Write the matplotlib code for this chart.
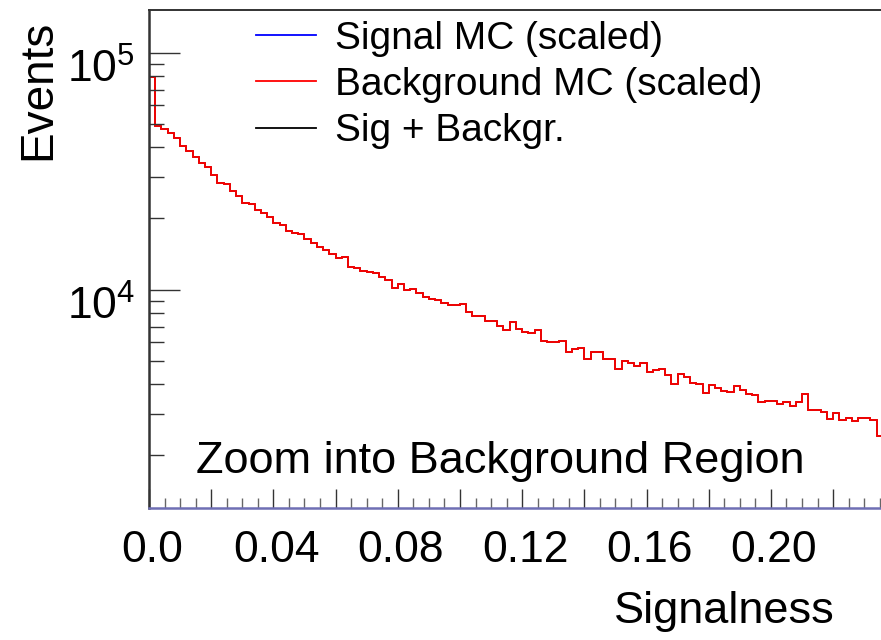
import numpy as np
import matplotlib
matplotlib.use("Agg")
import matplotlib.pyplot as plt
import matplotlib.transforms as mtransforms
from matplotlib.lines import Line2D
from matplotlib.ticker import FixedLocator, FixedFormatter, MultipleLocator, LogLocator, NullFormatter

plt.rcParams['font.family'] = ['Liberation Sans', 'DejaVu Sans']
plt.rcParams['mathtext.fontset'] = 'custom'
plt.rcParams['mathtext.rm'] = 'Liberation Sans'

# ---- data ----
bin_width = 0.002
background = [
    79400, 49350, 47640, 45840, 43920, 40510, 38590, 36290, 34450, 32940,
    30650, 28360, 27930, 26160, 24930, 23360, 23000, 21760, 21070, 20390,
    19170, 18800, 17740, 17450, 17180, 16460, 15830, 15140, 14710, 14150,
    13560, 13740, 12540, 12350, 12060, 11910, 11720, 11380, 11020, 10170,
    10580, 10000, 10070, 9740, 9370, 9160, 9050, 8840, 8670, 8590,
    8700, 8100, 7770, 7720, 7420, 7400, 7050, 6780, 7350, 6860,
    6660, 6570, 6740, 6090, 6030, 6020, 6110, 5440, 5640, 5690,
    5130, 5460, 5490, 5100, 5110, 4630, 5020, 4890, 4760, 4910,
    4490, 4580, 4640, 4370, 4020, 4410, 4270, 4060, 4020, 3660,
    3970, 3860, 3740, 3690, 3910, 3790, 3650, 3610, 3370, 3410,
    3380, 3290, 3360, 3240, 3370, 3630, 3120, 3100, 3050, 2860,
    3030, 2830, 2890, 2800, 2890, 2870, 2810, 2420,
]
legend_labels = ["Signal MC (scaled)", "Background MC (scaled)", "Sig + Backgr."]
x_major_ticks = [0.0, 0.02, 0.04, 0.06, 0.08, 0.10, 0.12, 0.14, 0.16, 0.18, 0.20, 0.22]
x_tick_labels = ["0.0", "", "0.04", "", "0.08", "", "0.12", "", "0.16", "", "0.20", ""]
y_major_ticks = [1e4, 1e5]
y_tick_labels = [r"$10^{4}$", r"$10^{5}$"]
x_range = (0.0, 0.2354)
y_range = (1200, 151700)

W, H = 881, 640
fig = plt.figure(figsize=(W / 100, H / 100), dpi=100)
ax = fig.add_axes([149 / W, (H - 508) / H, (W - 149) / W, (508 - 10) / H])

edges = np.arange(len(background) + 1) * bin_width
bkg = np.array(background, dtype=float)

ax.stairs(bkg, edges, color='black', linewidth=1.1, baseline=1.0)
ax.stairs(bkg, edges, color='#ff0000', linewidth=1.3, baseline=1.0)

ax.set_yscale('log')
ax.set_xlim(*x_range)
ax.set_ylim(*y_range)

# ticks
ax.xaxis.set_major_locator(FixedLocator(x_major_ticks))
ax.xaxis.set_major_formatter(FixedFormatter(x_tick_labels))
ax.xaxis.set_minor_locator(MultipleLocator(0.005))
ax.yaxis.set_major_locator(FixedLocator(y_major_ticks))
ax.yaxis.set_major_formatter(FixedFormatter(y_tick_labels))
ax.yaxis.set_minor_locator(LogLocator(base=10, subs=np.arange(2, 10), numticks=20))
ax.yaxis.set_minor_formatter(NullFormatter())
ax.tick_params(axis='both', which='both', direction='in', color='#333333',
               top=False, right=False)
ax.tick_params(axis='x', which='major', length=14, width=1.0, labelsize=32, pad=16)
ax.tick_params(axis='x', which='minor', length=7, width=1.0, color='#666666')
ax.tick_params(axis='y', which='major', length=22, width=1.0, labelsize=32, pad=10)
ax.tick_params(axis='y', which='minor', length=11, width=1.0)

# small offsets of the tick labels (as in the reference)
yoff = mtransforms.ScaledTranslation(0, -9 / 72, fig.dpi_scale_trans)
for t in ax.yaxis.get_major_ticks():
    t.label1.set_transform(t.label1.get_transform() + yoff)
xoff = mtransforms.ScaledTranslation(3 / 100, 0, fig.dpi_scale_trans)
for t in ax.xaxis.get_major_ticks():
    t.label1.set_transform(t.label1.get_transform() + xoff)

ax.spines['right'].set_visible(False)
ax.spines['left'].set_linewidth(1.8)
ax.spines['left'].set_color('#333333')
ax.spines['top'].set_linewidth(1.4)
ax.spines['top'].set_color('#333333')
ax.spines['bottom'].set_linewidth(1.8)
ax.spines['bottom'].set_color('#6f6fb4')

# legend
handles = [Line2D([], [], color='#0000ff', lw=1.3),
           Line2D([], [], color='#ff0000', lw=1.3),
           Line2D([], [], color='black', lw=1.3)]
leg = fig.legend(handles, legend_labels, loc='upper left',
                 bbox_to_anchor=(256 / W, 1 - 21 / H), frameon=False,
                 fontsize=28, handlelength=1.54, handletextpad=0.5,
                 labelspacing=0.26, borderpad=0, borderaxespad=0)

fig.text(500 / W, 1 - 462 / H, "Zoom into Background Region", fontsize=32.5,
         ha='center', va='center')
fig.text(835 / W, 1 - 612 / H, "Signalness", fontsize=32.5, ha='right', va='center')
fig.text(38 / W, 1 - 20 / H, "Events", fontsize=33, rotation=90, ha='center', va='top')

fig.savefig("out.png", dpi=100)
